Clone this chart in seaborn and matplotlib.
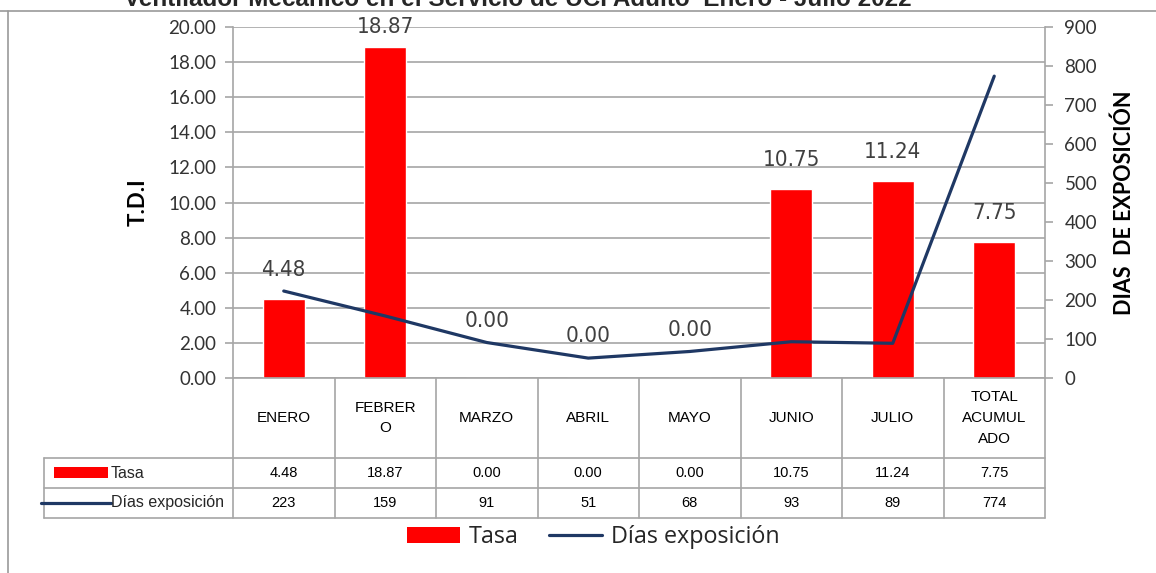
#!/usr/bin/env python3
"""Tasa de densidad de incidencia vs dias de exposicion (UCI adulto)."""
import matplotlib.pyplot as plt
import numpy as np
import seaborn as sns
from matplotlib.lines import Line2D
from matplotlib.patches import Patch, Rectangle

# data
months = ["ENERO", "FEBRERO", "MARZO", "ABRIL", "MAYO", "JUNIO", "JULIO", "TOTAL ACUMULADO"]
header_labels = ["ENERO", "FEBRER\nO", "MARZO", "ABRIL", "MAYO", "JUNIO", "JULIO", "TOTAL\nACUMUL\nADO"]
tasa = [4.48, 18.87, 0.00, 0.00, 0.00, 10.75, 11.24, 7.75]
dias = [223, 159, 91, 51, 68, 93, 89, 774]
left_ticks = [0, 2, 4, 6, 8, 10, 12, 14, 16, 18, 20]
right_ticks = [0, 100, 200, 300, 400, 500, 600, 700, 800, 900]

RED = "#FF0000"
NAVY = "#1F3864"
GRID = "#A6A6A6"
TXT = "#404040"
W, H = 1156, 573

sns.set_theme(style="white")
plt.rcParams["font.family"] = ["Lato", "DejaVu Sans"]
NARROW = ["Liberation Sans", "DejaVu Sans"]


def fx(px):
    return px / W


def fy(py):
    return 1 - py / H


fig = plt.figure(figsize=(W / 100, H / 100), dpi=100)
ax = fig.add_axes([fx(233), fy(378), fx(1045) - fx(233), fy(27) - fy(378)])

sns.barplot(x=months, y=tasa, color=RED, width=0.41, saturation=1, ax=ax)
ax.set_xlim(-0.5, len(months) - 0.5)
ax.set_ylim(0, 20)
ax.set_yticks(left_ticks)
ax.set_yticklabels([f"{v:.2f}" for v in left_ticks], fontsize=13.5, color="#333333")
ax.set_xticks([])
ax.set_xlabel("")
ax.yaxis.grid(True, color=GRID, lw=1.2)
ax.set_axisbelow(True)
ax.tick_params(axis="y", length=6, width=1.2, color=GRID, left=True, pad=6)
for side in ("top", "right"):
    ax.spines[side].set_visible(False)
for side in ("left", "bottom"):
    ax.spines[side].set_color(GRID)
    ax.spines[side].set_linewidth(1.2)
ax.set_ylabel("T.D.I", fontsize=16, fontweight="bold", color="black", labelpad=14)

ax2 = ax.twinx()
sns.lineplot(x=np.arange(len(dias)), y=dias, color=NAVY, lw=2.3, ax=ax2)
ax2.set_ylim(0, 900)
ax2.set_yticks(right_ticks)
ax2.set_yticklabels([str(v) for v in right_ticks], fontsize=13.5, color="#333333")
ax2.tick_params(axis="y", length=6, width=1.2, color=GRID, right=True, pad=8)
for side in ("top", "left", "bottom"):
    ax2.spines[side].set_visible(False)
ax2.spines["right"].set_color(GRID)
ax2.spines["right"].set_linewidth(1.2)
ax2.set_ylabel("DIAS  DE EXPOSICIÓN", fontsize=15.5, fontweight="bold", color="black", labelpad=12)

# value labels: above the bar, or above the line when the bar is empty
scale = 900 / 20
for i, v in enumerate(tasa):
    y = v + 1.65 if v > 0 else dias[i] / scale + 1.25
    ax.text(i, min(y, 20.0), f"{v:.2f}", ha="center", va="center",
            fontsize=16, color=TXT, family=["DejaVu Sans"], fontstretch="condensed",
            clip_on=False)

# data table under the axis
tr = ax.get_xaxis_transform()
col_edges = np.arange(len(months) + 1) - 0.5
px = 1 / 101.5
left_edge = -0.5 - (233 - 44) * px
row_y = [0, -80 / 351, -110 / 351, -140 / 351]
lkw = dict(color=GRID, lw=1.2, transform=tr, clip_on=False)
for xe in col_edges:
    ax.plot([xe, xe], [row_y[0], row_y[3]], **lkw)
ax.plot([left_edge, left_edge], [row_y[1], row_y[3]], **lkw)
for yy in row_y[1:]:
    ax.plot([left_edge, col_edges[-1]], [yy, yy], **lkw)

tkw = dict(ha="center", va="center", transform=tr, family=NARROW, color="black", clip_on=False)
for i, lab in enumerate(header_labels):
    ax.text(i, (row_y[0] + row_y[1]) / 2, lab, fontsize=11, linespacing=1.6, **tkw)
    ax.text(i, (row_y[1] + row_y[2]) / 2, f"{tasa[i]:.2f}", fontsize=10.5, **tkw)
    ax.text(i, (row_y[2] + row_y[3]) / 2, str(dias[i]), fontsize=10.5, **tkw)

# row labels with their keys
ax.add_patch(Rectangle((left_edge + 10 * px, -(478 - 378) / 351), 54 * px, 11 / 351,
                       facecolor=RED, edgecolor="none", transform=tr, clip_on=False))
ax.text(left_edge + 67 * px, (row_y[1] + row_y[2]) / 2, "Tasa", fontsize=11.5,
        ha="left", va="center", transform=tr, family=NARROW, clip_on=False)
ax.plot([left_edge - 3 * px, left_edge + 67 * px], [(row_y[2] + row_y[3]) / 2] * 2,
        color=NAVY, lw=2.3, transform=tr, clip_on=False)
ax.text(left_edge + 67 * px, (row_y[2] + row_y[3]) / 2, "Días exposición", fontsize=11.5,
        ha="left", va="center", transform=tr, family=NARROW, clip_on=False)

# bottom legend
handles = [Patch(facecolor=RED, edgecolor="none"), Line2D([], [], color=NAVY, lw=2.3)]
fig.legend(handles, ["Tasa", "Días exposición"], loc="center", bbox_to_anchor=(fx(593), fy(537)),
           ncol=2, frameon=False, handlelength=2.3, handleheight=0.7,
           handletextpad=0.35, columnspacing=1.3,
           prop={"family": ["Open Sans", "DejaVu Sans"], "size": 16.8})

# frame of the pasted picture and the cut-off title
fig.add_artist(Line2D([fx(8), fx(8)], [fy(11), 0], color="#9A9A9A", lw=1.2))
fig.add_artist(Line2D([0, 1], [fy(11), fy(11)], color="#9A9A9A", lw=1.2))
fig.text(fx(518), fy(6), "Ventilador Mecánico en el Servicio de UCI Adulto  Enero - Julio 2022",
         ha="center", va="baseline", fontsize=17.5, fontweight="bold",
         family=["Liberation Sans", "DejaVu Sans"])

fig.savefig("out.png", dpi=100)
